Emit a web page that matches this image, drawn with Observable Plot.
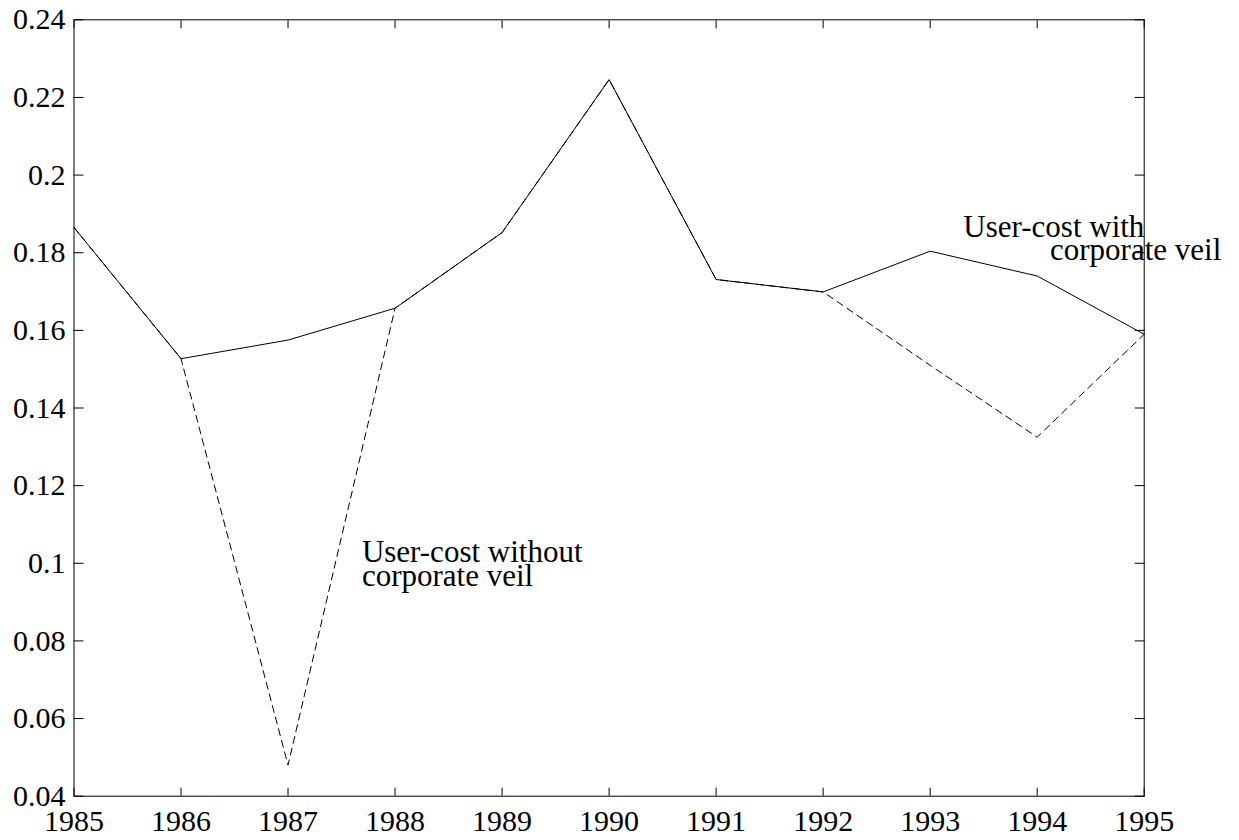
<!DOCTYPE html>
<html><head><meta charset="utf-8">
<script src="https://cdn.jsdelivr.net/npm/d3@7"></script>
<script src="https://cdn.jsdelivr.net/npm/@observablehq/plot@0.6"></script>
<style>body{margin:0;background:#fff}</style>
</head><body><div id="chart"></div>
<script>
const years = [1985, 1986, 1987, 1988, 1989, 1990, 1991, 1992, 1993, 1994, 1995];
const withVeil = [0.1865, 0.1527, 0.1575, 0.1657, 0.1852, 0.2246, 0.1731, 0.1699, 0.1804, 0.1740, 0.1590];
const withoutVeil = [0.1865, 0.1527, 0.0480, 0.1657, 0.1852, 0.2246, 0.1731, 0.1699, 0.1510, 0.1325, 0.1590];
const xTicks = [1985, 1986, 1987, 1988, 1989, 1990, 1991, 1992, 1993, 1994, 1995];
const yTicks = [0.04, 0.06, 0.08, 0.1, 0.12, 0.14, 0.16, 0.18, 0.2, 0.22, 0.24];
const labelText = ["User-cost without", "corporate veil", "User-cost with", "corporate veil"];
const labelX = [1987.69, 1987.69, 1993.31, 1994.12];
const labelY = [0.1028, 0.0966, 0.1865, 0.1807];

const rowsWith = years.map((year, i) => ({year, value: withVeil[i]}));
const rowsWithout = years.map((year, i) => ({year, value: withoutVeil[i]}));
const labels = labelText.map((text, i) => ({text, x: labelX[i], y: labelY[i]}));

const serif = "'Liberation Serif', 'Times New Roman', serif";
const blank = () => "";

const chart = Plot.plot({
  width: 1239,
  height: 840,
  marginLeft: 73.5,
  marginRight: 95.3,
  marginTop: 19.3,
  marginBottom: 44.3,
  x: {domain: [1985, 1995], label: null},
  y: {domain: [0.04, 0.24], label: null},
  style: {fontFamily: serif, fontSize: "30px", color: "black", background: "white"},
  marks: [
    Plot.axisX(xTicks, {anchor: "bottom", tickSize: -8, tickFormat: blank, label: null}),
    Plot.axisX(xTicks, {anchor: "top", tickSize: -8, tickFormat: blank, label: null}),
    Plot.axisY(yTicks, {anchor: "left", tickSize: -10, tickFormat: blank, label: null}),
    Plot.axisY(yTicks, {anchor: "right", tickSize: -10, tickFormat: blank, label: null}),
    Plot.axisX(xTicks, {anchor: "bottom", tickSize: 0, tickPadding: 13, tickFormat: d => String(d), fontSize: 30, fontFamily: serif, label: null}),
    Plot.axisY(yTicks, {anchor: "left", tickSize: 0, tickPadding: 8.5, tickFormat: d => String(d), fontSize: 30, fontFamily: serif, label: null}),
    Plot.frame({stroke: "black", strokeWidth: 1}),
    Plot.line(rowsWithout, {x: "year", y: "value", stroke: "black", strokeWidth: 1, strokeDasharray: "7,5"}),
    Plot.line(rowsWith, {x: "year", y: "value", stroke: "black", strokeWidth: 1}),
    Plot.text(labels, {x: "x", y: "y", text: "text", textAnchor: "start", fontSize: 31, fontFamily: serif, fill: "black"})
  ]
});
document.getElementById("chart").appendChild(chart);
</script>
</body></html>
